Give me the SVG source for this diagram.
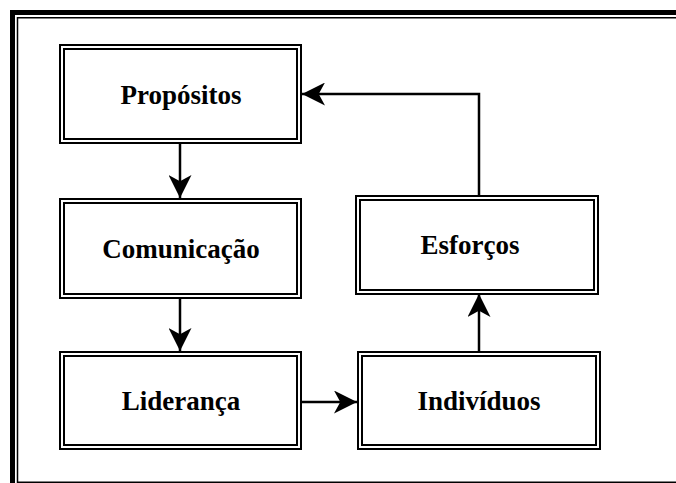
<svg xmlns="http://www.w3.org/2000/svg" width="676" height="483" viewBox="0 0 676 483">
<defs>
<style>
.frameThick{fill:none;stroke:#000;stroke-width:5}
.frameThin{fill:none;stroke:#000;stroke-width:1.5}
.bo{fill:#fff;stroke:#000;stroke-width:2}
.bi{fill:none;stroke:#000;stroke-width:2}
.lbl{font-family:"Liberation Serif","Times New Roman",serif;font-weight:bold;font-size:27px;fill:#000;text-anchor:middle}
.conn{fill:none;stroke:#000;stroke-width:2.5;marker-end:url(#ah)}
</style>
<marker id="ah" viewBox="0 0 22 22" refX="22" refY="11" markerWidth="23" markerHeight="23" markerUnits="userSpaceOnUse" orient="auto">
<path d="M0,0 L22,11 L0,22 L6,11 Z" fill="#000"/>
</marker>
</defs>
<rect x="0" y="0" width="676" height="483" fill="#fff"/>
<g id="frame">
<rect class="frameThick" x="12.5" y="12.5" width="700" height="480"/>
<rect class="frameThin" x="17.5" y="17.75" width="700" height="464.5" stroke="#555"/>
</g>
<g id="connectors">
<line class="conn" x1="180" y1="144" x2="180" y2="198"/>
<line class="conn" x1="180" y1="299" x2="180" y2="351"/>
<line class="conn" x1="302" y1="402" x2="357" y2="402"/>
<line class="conn" x1="479" y1="351" x2="479" y2="294"/>
<polyline class="conn" points="479,195 479,94 302,94"/>
</g>
<g id="propositos">
<rect class="bo" x="60" y="45" width="241" height="98"/>
<rect class="bi" x="64" y="49" width="233" height="90"/>
<text class="lbl" x="181" y="104">Propósitos</text>
</g>
<g id="comunicacao">
<rect class="bo" x="60" y="199" width="241" height="99"/>
<rect class="bi" x="64" y="203" width="233" height="91"/>
<text class="lbl" x="181" y="258">Comunicação</text>
</g>
<g id="lideranca">
<rect class="bo" x="60" y="352" width="241" height="97"/>
<rect class="bi" x="64" y="356" width="233" height="89"/>
<text class="lbl" x="181" y="410">Liderança</text>
</g>
<g id="individuos">
<rect class="bo" x="358" y="352" width="242" height="97"/>
<rect class="bi" x="362" y="356" width="234" height="89"/>
<text class="lbl" x="479" y="410">Indivíduos</text>
</g>
<g id="esforcos">
<rect class="bo" x="356" y="196" width="242" height="98"/>
<rect class="bi" x="360" y="200" width="234" height="90"/>
<text class="lbl" x="470" y="254">Esforços</text>
</g>
</svg>
